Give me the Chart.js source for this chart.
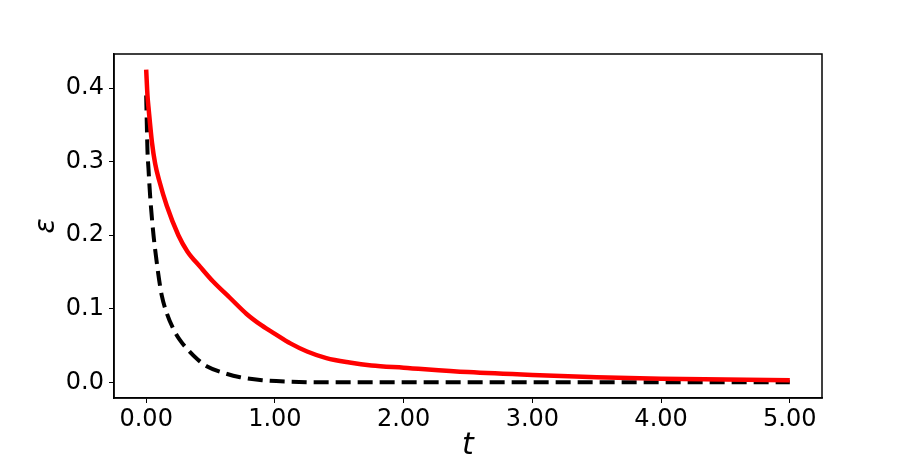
<!DOCTYPE html>
<html>
<head>
<meta charset="utf-8">
<script src="https://cdn.jsdelivr.net/npm/chart.js@4.4.0/dist/chart.umd.min.js"></script>
<style>
  html, body { margin: 0; padding: 0; background: #fff; }
  #wrap { width: 913px; height: 457px; position: relative; }
</style>
</head>
<body>
<div id="wrap"><canvas id="chart"></canvas></div>
<script>
// red solid curve
const tRed = [0, 0.01, 0.02, 0.045, 0.07, 0.1, 0.16, 0.25, 0.32, 0.42, 0.52, 0.65, 0.78, 0.9, 1.0, 1.12, 1.25, 1.4, 1.58, 1.75, 2.0, 2.5, 3.0, 3.5, 4.0, 4.5, 5.0];
const epsRed = [0.425, 0.39, 0.37, 0.326, 0.297, 0.275, 0.240, 0.200, 0.178, 0.157, 0.137, 0.115, 0.093, 0.077, 0.066, 0.053, 0.042, 0.033, 0.027, 0.023, 0.020, 0.014, 0.010, 0.007, 0.005, 0.004, 0.003];

// black dashed curve
const tBlack = [0, 0.005, 0.01, 0.018, 0.03, 0.057, 0.08, 0.1, 0.12, 0.16, 0.21, 0.26, 0.32, 0.4, 0.47, 0.6, 0.73, 0.9, 1.1, 1.4, 2.0, 3.0, 4.0, 5.0];
const epsBlack = [0.39, 0.35, 0.315, 0.29, 0.255, 0.20, 0.166, 0.14, 0.119, 0.094, 0.073, 0.058, 0.045, 0.031, 0.022, 0.013, 0.007, 0.003, 0.001, 0.0, 0.0, 0.0, 0.0, 0.0];

const xTicks = [0, 1, 2, 3, 4, 5];
const yTicks = [0, 0.1, 0.2, 0.3, 0.4];

const pts = (xs, ys) => xs.map((x, i) => ({ x: x, y: ys[i] }));

const frame = {
  id: 'frame',
  afterDatasetsDraw(chart) {
    const a = chart.chartArea;
    const c = chart.ctx;
    c.save();
    c.strokeStyle = '#000';
    c.lineWidth = 1.5;
    c.strokeRect(a.left, a.top, a.right - a.left, a.bottom - a.top);
    c.restore();
  }
};

const tickFont = { family: 'DejaVu Sans', size: 24 };

new Chart(document.getElementById('chart').getContext('2d'), {
  type: 'scatter',
  data: {
    datasets: [
      {
        label: 'red',
        data: pts(tRed, epsRed),
        showLine: true,
        borderColor: '#ff0000',
        borderWidth: 4.5,
        pointRadius: 0,
        cubicInterpolationMode: 'monotone'
      },
      {
        label: 'black',
        data: pts(tBlack, epsBlack),
        showLine: true,
        borderColor: '#000000',
        borderWidth: 4,
        borderDash: [15, 7],
        pointRadius: 0,
        cubicInterpolationMode: 'monotone'
      }
    ]
  },
  options: {
    responsive: true,
    maintainAspectRatio: false,
    animation: false,
    layout: { padding: { left: 0, right: 91, top: 54, bottom: 0 } },
    plugins: { legend: { display: false }, tooltip: { enabled: false } },
    scales: {
      x: {
        type: 'linear',
        min: -0.25,
        max: 5.25,
        afterBuildTicks: s => { s.ticks = xTicks.map(v => ({ value: v })); },
        afterFit: s => { s.height = 59; },
        grid: { drawOnChartArea: false, tickLength: 5, color: '#000', tickWidth: 1 },
        border: { color: '#000', width: 1.5 },
        ticks: { color: '#000', font: tickFont, padding: 2, maxRotation: 0, callback: v => v.toFixed(2) },
        title: { display: true, text: 't', color: '#000', padding: { top: 0, bottom: -7 }, font: { family: 'DejaVu Sans', size: 30, style: 'italic' } }
      },
      y: {
        type: 'linear',
        min: -0.02125,
        max: 0.44625,
        afterBuildTicks: s => { s.ticks = yTicks.map(v => ({ value: v })); },
        afterFit: s => { s.width = 114; },
        grid: { drawOnChartArea: false, tickLength: 5, color: '#000', tickWidth: 1 },
        border: { color: '#000', width: 1.5 },
        ticks: { color: '#000', font: tickFont, padding: 5, callback: v => v.toFixed(1) },
        title: { display: true, text: 'ε', color: '#000', padding: { top: 30, bottom: 0 }, font: { family: 'DejaVu Sans', size: 28, style: 'italic' } }
      }
    }
  },
  plugins: [frame]
});
</script>
</body>
</html>
